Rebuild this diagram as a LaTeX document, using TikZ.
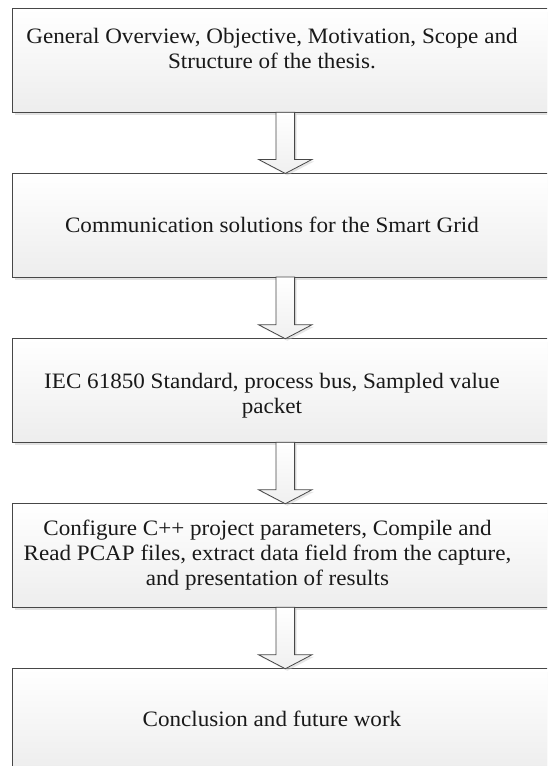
\documentclass[tikz,border=0pt]{standalone}
\usepackage{fontspec}
\setmainfont[FakeStretch=1.05]{Liberation Serif}
\usetikzlibrary{calc,shadows}

% stack of centred lines whose baseline is that of the first line
\newcommand{\stacklines}[1]{\begin{tabular}[t]{@{}c@{}}#1\end{tabular}}

\tikzset{
  stagebox/.style={
    draw=black!72, line width=0.9pt,
    top color=white, bottom color=black!7,
    minimum width=547.5pt, minimum height=103.5pt,
    inner sep=0pt, outer sep=0pt,
    drop shadow={shadow xshift=2.5pt, shadow yshift=-3pt, fill=black!22, opacity=0.5}
  },
  stagetext/.style={
    anchor=base, inner sep=0pt, text=black!90,
    font=\fontsize{22}{25}\selectfont
  },
  blockarrow/.style={
    draw=black!72, line width=0.8pt, line join=miter,
    top color=white, bottom color=black!6,
    drop shadow={shadow xshift=2pt, shadow yshift=-2pt, fill=black!22, opacity=0.45}
  }
}

% hollow down arrow from the bottom of box #1 to the top of box #2
\newcommand{\flowarrow}[2]{%
  \draw[blockarrow] let \p1=(#1.south), \p2=(#2.north), \p3=(axis) in
    (\x3-9.3pt,\y1) -- (\x3+9.3pt,\y1) -- (\x3+9.3pt,\y2+14pt)
    -- (\x3+26.7pt,\y2+14pt) -- (\x3,\y2) -- (\x3-26.7pt,\y2+14pt)
    -- (\x3-9.3pt,\y2+14pt) -- cycle;}

\begin{document}
\begin{tikzpicture}[x=1pt,y=-1pt]
  \path[use as bounding box, clip] (0,0) rectangle (547,766);
  \fill[white] (0,0) rectangle (547,766);

  \coordinate (axis) at (285.3,0);

  % the five stages
  \node[stagebox] (b1) at (286.25,60.5) {};
  \node[stagebox] (b2) at (286.25,225.2) {};
  \node[stagebox] (b3) at (286.25,390.5) {};
  \node[stagebox] (b4) at (286.25,555.5) {};
  \node[stagebox] (b5) at (286.25,720.5) {};

  % connectors between the stages
  \flowarrow{b1}{b2}
  \flowarrow{b2}{b3}
  \flowarrow{b3}{b4}
  \flowarrow{b4}{b5}

  % stage descriptions
  \node[stagetext] (t1) at (272,43.5)
    {\stacklines{General Overview, Objective, Motivation, Scope and\\ Structure of the thesis.}};
  \node[stagetext] (t2) at (272,232.2)
    {Communication solutions for the Smart Grid};
  \node[stagetext] (t3) at (272,388)
    {\stacklines{IEC 61850 Standard, process bus, Sampled value\\ packet}};
  \node[stagetext] (t4) at (267.5,535)
    {\stacklines{Configure C++ project parameters, Compile and\\ Read PCAP files, extract data field from the capture,\\ and presentation of results}};
  \node[stagetext] (t5) at (272,726.7)
    {Conclusion and future work};
\end{tikzpicture}
\end{document}
